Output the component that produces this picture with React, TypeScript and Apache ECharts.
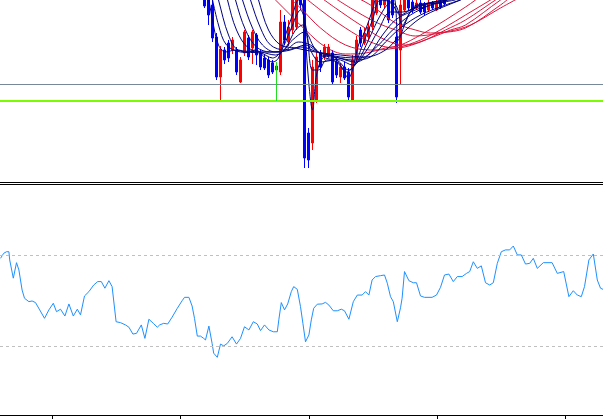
import React, { useEffect, useRef } from 'react';
import * as echarts from 'echarts';

// x axis is in bar units (one bar = one candle); top panel values are price levels on an inverted scale
const X_MIN = -0.125;
const X_MAX = 150.625;
const timeTicks = [13, 45, 77.25, 109.25, 141.25];

// [bar, open, close, extreme A, extreme B]
const candles: number[][] = [
  [51, -20, 6, -25, 8], [52, -15, 15, -20, 25], [53, 5, 38, 0, 42], [54, 37, 77, 33, 80],
  [55, 77, 49, 46, 100], [56, 50, 60, 47, 64], [57, 43, 58, 40, 62], [58, 50, 40, 37, 54],
  [59, 50, 72, 47, 75], [60, 82, 60, 57, 83], [61, 53, 32, 30, 56], [62, 38, 57, 35, 60],
  [63, 48, 32, 30, 64], [64, 35, 55, 33, 65], [65, 53, 67, 50, 70], [66, 58, 68, 55, 70],
  [67, 60, 75, 57, 78], [68, 63, 72, 60, 74], [69, 70, 66, 62, 73], [70, 72, 22, 10, 75],
  [71, 22, 40, 15, 45], [72, 42, 27, 20, 46], [73, 30, 0, -5, 34], [74, 27, -5, -10, 30],
  [75, -10, 5, -15, 10], [76, -5, 158, -10, 168], [77, 133, 160, 128, 168], [78, 143, 67, 60, 150],
  [79, 100, 57, 52, 103], [80, 53, 67, 50, 72], [81, 57, 47, 44, 60], [82, 55, 47, 44, 58],
  [83, 53, 82, 50, 84], [84, 62, 75, 58, 78], [85, 77, 67, 63, 83], [86, 67, 78, 62, 80],
  [87, 72, 97, 68, 100], [88, 100, 60, 55, 102], [89, 58, 40, 36, 62], [90, 30, 43, 27, 47],
  [91, 43, 33, 28, 45], [92, 37, 27, 22, 40], [93, 27, 0, -5, 30], [94, 13, -5, -10, 15],
  [95, -10, 5, -15, 8], [96, 5, -10, -15, 8], [97, -5, 20, -10, 23], [98, 0, 15, -5, 18],
  [99, 37, 97, 30, 103], [100, 50, 5, 0, 85], [101, 10, -5, -10, 12], [102, 0, 8, -3, 10],
  [103, 2, 10, 0, 13], [104, 8, 3, 0, 10], [105, 3, 12, 0, 14], [106, 5, 12, 2, 15],
  [107, 10, 3, 0, 12], [108, 3, 8, 1, 10], [109, 10, 3, 0, 11], [110, 2, 7, 0, 9],
  [111, 0, 4, -2, 5],
];

const fastMAs: number[][][] = [
  [[51.25, -20], [53, 20], [54.5, 45], [56.25, 52], [58.75, 50], [61.25, 52], [63.75, 50], [66.25, 58], [68, 62], [69.5, 58], [71.25, 35], [73, 15], [74.5, 0], [75.5, 5], [77, 80], [78, 110], [79, 75], [80.5, 58], [82.5, 55], [85, 65], [87, 78], [88, 70], [89.5, 45], [91.25, 30], [93, 10], [94.5, -5], [98, -5], [99.5, 40], [101, 25], [103, 8], [105, 4], [110, 3], [112, -2]],
  [[52.5, -10], [54.5, 25], [56.5, 45], [60, 52], [65, 53], [68, 58], [70, 52], [72.5, 30], [75, 10], [76.5, 30], [78, 70], [79.5, 70], [81.5, 60], [84, 62], [86.5, 72], [88.5, 65], [90.5, 45], [93, 20], [95, 0], [98.75, 5], [100.5, 25], [102.5, 12], [105, 5], [111.25, 0]],
  [[53.5, -15], [54.5, 0], [57, 35], [59.5, 50], [65, 52], [68.75, 55], [71.25, 48], [73.75, 30], [75.5, 25], [77.5, 50], [80, 62], [83.75, 60], [87, 70], [89.5, 60], [92, 40], [95, 15], [97.5, 3], [100, 15], [102.5, 10], [107.5, 3], [112.5, -2]],
  [[56, -15], [56.75, 0], [59, 30], [62, 48], [66.25, 52], [70, 52], [73, 40], [76, 32], [78.5, 48], [81.25, 58], [85, 60], [88, 65], [91.25, 52], [94.5, 30], [97.5, 12], [100.5, 12], [105, 5], [112.5, 0]],
  [[58, -15], [58.75, 0], [61.25, 30], [64, 47], [67.5, 52], [71.25, 50], [74.5, 42], [77.5, 45], [80.5, 55], [84.5, 58], [88.75, 62], [92, 55], [95.5, 35], [98.75, 20], [102.5, 12], [107.5, 5], [113.75, 0]],
  [[59.5, -15], [60.5, 0], [63, 28], [65.5, 45], [68.75, 52], [72.5, 50], [76.25, 45], [79.5, 52], [83.75, 57], [88, 60], [92.5, 57], [96.25, 42], [100, 28], [105, 15], [111.25, 5], [115, 0]],
  [[61.5, -15], [62.5, 0], [65, 28], [67.5, 45], [71.25, 50], [75, 47], [80, 53], [85, 57], [90, 58], [94.5, 45], [98, 30], [102.5, 15], [107.5, 5], [111.25, 0], [113, -5]],
  [[63.5, -15], [64.5, 0], [67, 30], [70, 45], [73.75, 48], [78.75, 52], [85, 55], [91.25, 57], [96.25, 50], [100, 35], [105, 18], [110, 8], [115, 0], [117, -5]],
];

const slowMAs: number[][][] = [
  [[66.25, -10], [71.25, 10], [76.25, 30], [81.25, 47], [86.25, 54], [91.25, 53], [96.25, 48], [100, 45], [105, 35], [111.25, 20], [116.25, 7], [118.75, 0], [120.5, -6]],
  [[70, -10], [75, 8], [80, 28], [86.25, 45], [92.5, 50], [98.75, 48], [105, 40], [111.25, 27], [116.25, 15], [122.5, 0], [125, -6]],
  [[73.75, -10], [80, 10], [86.25, 28], [92.5, 42], [98.75, 48], [105, 42], [111.25, 30], [116.25, 20], [123.75, 0], [126.25, -6]],
  [[77.5, -10], [83.75, 8], [90, 25], [96.25, 40], [101.25, 45], [107.5, 38], [112.5, 30], [116.25, 25], [125, 0], [127.5, -6]],
  [[81.25, -8], [87.5, 8], [93.75, 22], [98.75, 30], [103.75, 36], [110, 33], [116.25, 28], [125, 5], [127.5, -3]],
  [[86.25, -8], [92.5, 5], [98.75, 23], [103.75, 30], [107.5, 33], [112.5, 31], [117.5, 25], [125, 8], [130, -3]],
];

const priceLevels = [84.5, 101];
const signalBar = 69;
const signalRange = [62, 101];

// RSI readings: [bar, value]
const rsi: number[][] = [
  [0, 68.7], [0.8, 70.9], [1.5, 71.6], [2.1, 71.6], [2.3, 68.0], [3.2, 60.0], [4.0, 66.8], [4.6, 63.6], [5.4, 54.8], [6.0, 51.2],
  [7.1, 49.7], [7.9, 50.0], [8.75, 49.3], [9.8, 46.1], [11, 42.4], [12.1, 46.1], [13.2, 49.0], [14, 45.3], [15, 46.4], [16.1, 43.4],
  [17.1, 48.7], [18.2, 43.4], [19.2, 46.4], [20, 43.9], [21, 52.2], [22.1, 54.1], [23.3, 57.0], [24.3, 58.5], [25.2, 58.5], [26.1, 55.6],
  [27.1, 58.9], [27.9, 56.3], [28.9, 40.9], [30, 40.5], [31.25, 39.5], [32.1, 38.5], [33.1, 35.5], [34, 35.8], [35.2, 39.5], [36.1, 33.6],
  [37.1, 42.0], [38.2, 40.2], [39.2, 38.5], [39.8, 39.5], [40.8, 40.2], [41.8, 39.9], [42.9, 42.9], [44.2, 46.8], [45.4, 50.1], [46, 51.6],
  [47.1, 51.6], [47.9, 47.8], [48.5, 42.4], [49.2, 34.6], [50, 34.6], [50.8, 33.6], [51.25, 32.9], [52.1, 39.0], [52.9, 31.4], [53.3, 27.1],
  [54.2, 25.3], [55, 31.1], [55.8, 30.3], [56.7, 31.4], [57.9, 34.3], [59, 31.1], [60, 33.6], [61, 38.7], [62.1, 37.3], [63.2, 40.9],
  [64.2, 39.9], [65, 37.0], [66, 39.5], [67.1, 37.3], [68.2, 36.5], [69.2, 36.5], [69.6, 42.0], [70.2, 49.3], [71, 46.1], [71.8, 48.7],
  [72.7, 54.1], [73.3, 56.3], [74.2, 55.1], [75, 47.5], [75.6, 40.2], [76.25, 32.1], [77.1, 35.1], [77.7, 41.7], [78.3, 46.8], [79.2, 48.6],
  [80.4, 48.7], [81.25, 49.4], [82.1, 48.2], [83.2, 45.7], [84.2, 45.7], [85.2, 46.4], [86, 45.7], [87.1, 42.0], [88.2, 49.7], [89.2, 52.6],
  [90.4, 52.6], [91.25, 54.1], [92.1, 52.6], [92.9, 59.2], [93.75, 60.7], [95, 61.1], [96, 61.4], [96.7, 57.8], [97.5, 51.9], [98.2, 49.7],
  [99.2, 40.9], [100, 47.0], [100.4, 51.2], [101, 62.9], [102.1, 58.9], [103.2, 58.0], [104, 58.0], [105, 52.2], [106, 51.6], [107.9, 51.6],
  [109, 52.6], [110, 56.0], [111, 61.4], [112.1, 61.8], [113.2, 58.5], [114.2, 60.7], [115.4, 60.7], [116.5, 62.1], [117.3, 62.9], [118.2, 67.2],
  [119.2, 64.3], [120.2, 65.4], [121.25, 58.0], [122.3, 57.0], [123.2, 58.0], [124.2, 66.5], [125.2, 71.6], [126.25, 72.4], [127.3, 72.4], [128.2, 74.1],
  [129.2, 70.2], [130.2, 70.2], [131.25, 66.2], [132.3, 66.5], [133.2, 68.7], [134.2, 64.3], [135.7, 66.8], [137.9, 66.8], [139.2, 62.1], [140.8, 62.9],
  [142.1, 51.9], [143.2, 54.5], [144.2, 52.6], [145.2, 51.9], [146, 56.3], [147.1, 68.0], [148.2, 70.6], [149.2, 59.2], [150, 55.6], [150.625, 55.1],
];
const rsiLevels = [70, 30];

export default function App() {
  const ref = useRef<HTMLDivElement>(null);
  useEffect(() => {
    if (!ref.current) return;
    const chart = echarts.init(ref.current, null, { renderer: 'svg' });
    const maSeries = (pts: number[][], color: string) => ({
      type: 'line',
      xAxisIndex: 0,
      yAxisIndex: 0,
      data: pts,
      showSymbol: false,
      symbol: 'none',
      smooth: 0.35,
      clip: true,
      silent: true,
      z: 3,
      lineStyle: { color, width: 1 },
    });
    chart.setOption({
      animation: false,
      backgroundColor: '#ffffff',
      grid: [
        { left: 0, right: 0, top: 0, height: 182 },
        { left: 0, right: 0, top: 184, height: 231 },
      ],
      xAxis: [
        {
          type: 'value', gridIndex: 0, min: X_MIN, max: X_MAX, position: 'bottom',
          axisLine: { show: true, onZero: false, lineStyle: { color: '#000', width: 1 } },
          axisTick: { show: false }, axisLabel: { show: false }, splitLine: { show: false },
        },
        {
          type: 'value', gridIndex: 1, min: X_MIN, max: X_MAX, position: 'bottom',
          axisLine: { show: true, onZero: false, lineStyle: { color: '#000', width: 1 } },
          axisTick: { show: true, length: 4, inside: false, customValues: timeTicks, lineStyle: { color: '#000' } },
          axisLabel: { show: false }, splitLine: { show: false },
        },
        {
          type: 'value', gridIndex: 1, min: X_MIN, max: X_MAX, position: 'top',
          axisLine: { show: true, onZero: false, lineStyle: { color: '#000', width: 1 } },
          axisTick: { show: false }, axisLabel: { show: false }, splitLine: { show: false },
        },
      ],
      yAxis: [
        { type: 'value', gridIndex: 0, min: 0, max: 182, inverse: true, show: false, splitLine: { show: false } },
        { type: 'value', gridIndex: 1, min: 0, max: 101.3, show: false, splitLine: { show: false } },
      ],
      series: [
        {
          type: 'candlestick',
          xAxisIndex: 0,
          yAxisIndex: 0,
          data: candles,
          barWidth: 3,
          clip: true,
          silent: true,
          z: 2,
          itemStyle: {
            color: '#0000FF', borderColor: '#0000FF',
            color0: '#FF0000', borderColor0: '#FF0000',
            borderWidth: 1,
          },
          markLine: {
            silent: true,
            symbol: 'none',
            label: { show: false },
            data: [
              { yAxis: priceLevels[0], lineStyle: { color: '#778899', width: 1, type: 'solid' } },
              { yAxis: priceLevels[1], lineStyle: { color: '#7CFC00', width: 2, type: 'solid' } },
              [
                { coord: [signalBar, signalRange[0]], lineStyle: { color: '#22DD22', width: 1, type: 'solid' } },
                { coord: [signalBar, signalRange[1]] },
              ],
            ],
          },
        },
        ...slowMAs.map((p) => maSeries(p, '#DC143C')),
        ...fastMAs.map((p) => maSeries(p, '#000080')),
        {
          type: 'line',
          xAxisIndex: 1,
          yAxisIndex: 1,
          data: rsi,
          showSymbol: false,
          symbol: 'none',
          silent: true,
          lineStyle: { color: '#1E90FF', width: 1 },
          markLine: {
            silent: true,
            symbol: 'none',
            label: { show: false },
            lineStyle: { color: '#C0C0C0', width: 1, type: [3, 3] },
            data: rsiLevels.map((v) => ({ yAxis: v })),
          },
        },
      ],
    });
    return () => chart.dispose();
  }, []);
  return (
    <div
      ref={ref}
      style={{ position: 'fixed', left: 0, top: 0, width: 603, height: 420, background: '#fff' }}
    />
  );
}
